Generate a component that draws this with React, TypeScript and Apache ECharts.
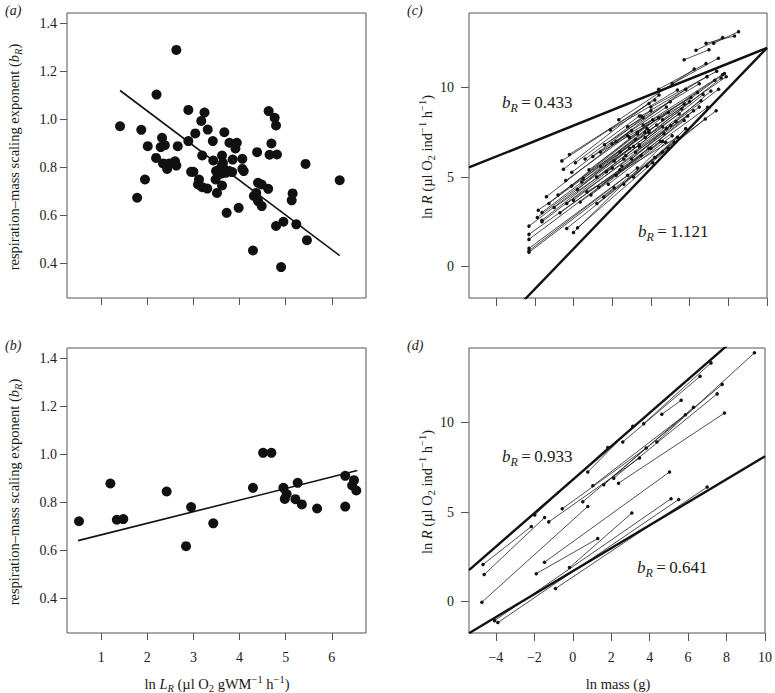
import React, { useEffect, useRef } from "react";
import * as echarts from "echarts";

// ---------- data ----------
const panelAPoints: number[][] = [
  [2.63, 1.29], [2.2, 1.104], [1.41, 0.972], [1.87, 0.957], [2.01, 0.889], [2.32, 0.924], [2.29, 0.885],
  [2.38, 0.893], [2.66, 0.889], [2.19, 0.84], [2.34, 0.817], [2.43, 0.794], [2.48, 0.817], [2.6, 0.826],
  [2.63, 0.808], [1.95, 0.75], [1.78, 0.674], [2.89, 1.04], [3.24, 1.029], [3.17, 0.994], [3.04, 0.942],
  [3.31, 0.958], [2.89, 0.91], [3.42, 0.91], [3.19, 0.85], [2.95, 0.782], [3.0, 0.782], [3.12, 0.75],
  [3.1, 0.729], [3.19, 0.718], [3.3, 0.712], [3.43, 0.829], [3.49, 0.785], [3.48, 0.75], [3.51, 0.694],
  [3.62, 0.725], [3.62, 0.85], [3.67, 0.947], [3.57, 0.792], [3.64, 0.819], [3.67, 0.792], [3.71, 0.778],
  [3.78, 0.903], [3.94, 0.903], [3.91, 0.879], [3.85, 0.833], [4.06, 0.836], [3.84, 0.781], [4.06, 0.794],
  [4.09, 0.785], [3.72, 0.611], [3.98, 0.632], [4.38, 0.864], [4.4, 0.736], [4.48, 0.729], [4.62, 0.711],
  [4.31, 0.681], [4.36, 0.694], [4.4, 0.66], [4.48, 0.639], [4.29, 0.454], [4.63, 1.035], [4.76, 1.007],
  [4.79, 0.975], [4.69, 0.9], [4.65, 0.853], [4.81, 0.854], [4.79, 0.556], [4.95, 0.574], [4.9, 0.385],
  [5.15, 0.692], [5.13, 0.663], [5.23, 0.563], [5.43, 0.815], [5.46, 0.497], [6.17, 0.747], [3.62, 0.775],
  [3.54, 0.771], [3.78, 0.785],
];
const panelALine: number[][] = [[1.41, 1.121], [6.17, 0.433]];

const panelBPoints: number[][] = [
  [0.52, 0.722], [1.2, 0.879], [1.34, 0.728], [1.48, 0.731], [2.42, 0.846], [2.84, 0.618], [2.95, 0.781],
  [3.43, 0.713], [4.29, 0.861], [4.51, 1.007], [4.69, 1.007], [4.95, 0.861], [5.02, 0.835], [4.98, 0.815],
  [5.26, 0.882], [5.21, 0.814], [5.35, 0.792], [5.68, 0.775], [6.29, 0.911], [6.29, 0.783], [6.48, 0.893],
  [6.44, 0.871], [6.53, 0.85],
];
const panelBLine: number[][] = [[0.5, 0.641], [6.55, 0.933]];

// [x1, y1, x2, y2] : ln mass, ln R at the two ends of each species' range
const panelCSegments: number[][] = [
  [-2.3, 2.26, 3.1, 6.7], [-2.3, 1.8, 2.4, 5.4], [-2.3, 1.52, 3.5, 6.2], [-2.3, 1.02, 2.8, 5.1],
  [-2.3, 0.89, 3.3, 5.5], [-2.3, 0.8, 2.1, 4.4], [-1.82, 3.15, 3.9, 7.5], [-1.87, 2.74, 2.9, 6.6],
  [-1.63, 3.02, 4.3, 7.9], [-1.63, 2.59, 3.4, 6.8], [-1.63, 2.5, 2.0, 5.5], [-1.27, 3.52, 4.1, 8.2],
  [-1.0, 3.3, 2.6, 6.0], [-0.8, 4.0, 3.2, 7.1], [-0.35, 2.13, 4.59, 6.39], [0.0, 1.91, 4.77, 6.94],
  [0.21, 2.17, 4.1, 5.8], [-0.52, 5.43, 4.42, 9.57], [-0.21, 6.26, 4.2, 9.3], [-0.09, 5.26, 3.6, 8.3],
  [-0.35, 3.52, 4.68, 7.41], [0.0, 3.7, 5.03, 7.87], [0.43, 4.72, 5.46, 8.52], [0.35, 3.61, 4.5, 7.0],
  [0.69, 4.17, 5.37, 7.22], [1.3, 4.44, 5.72, 8.15], [1.21, 3.52, 4.9, 6.6], [1.56, 3.89, 5.2, 6.95],
  [2.34, 8.19, 6.24, 11.02], [1.91, 7.63, 5.37, 9.85], [1.99, 6.85, 6.07, 9.44], [1.39, 6.39, 5.72, 9.07],
  [1.0, 6.15, 4.8, 8.9], [3.6, 7.9, 7.8, 10.78], [3.9, 7.6, 7.89, 10.59], [3.7, 7.2, 7.63, 10.52],
  [4.2, 6.1, 7.37, 8.7], [3.8, 5.6, 6.81, 8.24], [4.0, 6.6, 6.93, 8.89], [3.4, 6.7, 6.59, 9.26],
  [2.9, 7.2, 6.41, 9.72], [2.5, 5.6, 6.2, 8.7], [2.7, 6.2, 6.7, 9.6], [3.1, 5.0, 5.8, 7.7],
  [2.2, 5.1, 5.9, 8.4], [2.6, 4.6, 5.4, 7.2], [3.0, 6.0, 7.1, 9.8], [3.3, 7.5, 7.3, 10.4],
  [2.1, 5.9, 5.6, 8.8], [1.7, 5.3, 5.3, 8.1], [1.2, 5.0, 4.6, 7.8], [0.8, 5.4, 4.4, 8.3],
  [0.5, 4.9, 3.8, 7.7], [0.2, 4.3, 3.7, 7.5], [-0.1, 4.5, 3.3, 7.4], [-0.4, 4.8, 2.8, 7.3],
  [0.1, 5.8, 3.4, 8.4], [0.6, 6.0, 4.0, 8.7], [1.6, 6.8, 5.0, 9.2], [2.2, 7.0, 5.8, 9.9],
  [2.8, 7.8, 6.5, 10.2], [3.5, 8.4, 6.9, 10.6], [4.0, 8.9, 7.4, 10.9], [4.4, 9.9, 6.85, 11.33],
  [5.1, 10.2, 7.49, 11.63], [6.33, 12.07, 7.71, 12.78], [6.85, 12.46, 8.32, 12.87], [7.24, 12.46, 8.53, 13.11],
  [5.72, 11.54, 7.0, 12.1], [4.6, 8.2, 7.7, 10.7], [4.8, 7.7, 7.5, 9.9],
  [-1.4, 3.9, 3.0, 7.6], [-0.7, 3.0, 3.9, 6.6], [0.9, 4.0, 4.6, 7.0], [1.8, 4.6, 5.1, 7.3],
  [2.4, 6.4, 6.0, 9.2], [3.2, 6.4, 6.5, 8.9], [1.4, 5.6, 4.9, 8.6], [-0.6, 5.9, 3.9, 9.1],
];

const panelDSegments: number[][] = [
  [-4.67, 2.07, -2.16, 4.19], [-4.61, 1.51, -1.47, 4.69], [-4.73, -0.03, 0.78, 5.31], [-1.98, 4.84, 1.82, 8.6],
  [0.78, 7.23, 3.12, 9.78], [-1.25, 4.45, 3.47, 8.01], [-0.55, 5.18, 3.82, 8.57], [0.52, 5.57, 7.77, 12.12],
  [1.04, 6.46, 5.86, 10.43], [1.61, 6.52, 6.28, 10.84], [2.13, 6.89, 7.51, 11.59], [2.38, 6.61, 7.89, 10.52],
  [2.6, 8.91, 6.62, 12.57], [3.69, 9.93, 7.19, 13.32], [4.63, 10.45, 5.64, 11.23], [4.37, 8.91, 9.45, 13.88],
  [-1.47, 2.2, 5.03, 7.23], [-1.9, 1.56, 1.3, 3.52], [-0.17, 1.9, 3.07, 4.94], [-0.9, 0.73, 6.99, 6.39],
  [-4.07, -1.06, 5.11, 5.74], [-3.9, -1.17, 5.51, 5.7],
];

// fitted lines: intercept, slope (ln R = a + b ln mass)
const panelCFitIntercepts = [7.87, 0.99];
const panelCFitSlopes = [0.433, 1.121];
const panelDFitIntercepts = [6.8, 1.7];
const panelDFitSlopes = [0.933, 0.641];

const abXRange = [0.26, 6.74];
const abYRange = [0.256, 1.444];
const cdXRange = [-5.4, 10];
const cdYRange = [-1.75, 14.15];
const abXTicks = [1, 2, 3, 4, 5, 6];
const abYTicks = [0.4, 0.6, 0.8, 1.0, 1.2, 1.4];
const cdXTicks = [-4, -2, 0, 2, 4, 6, 8, 10];
const cdYTicks = [0, 5, 10];

// ---------- styling ----------
const FONT = "Liberation Serif";
const INK = "#1a1a1a";
const BOX = "#555";
const TS = 14.5;
const SS = 10.5;

const rich = {
  n: { fontFamily: FONT, fontSize: TS, color: INK, fill: INK },
  i: { fontFamily: FONT, fontSize: TS, fontStyle: "italic", color: INK, fill: INK },
  is: { fontFamily: FONT, fontSize: SS, fontStyle: "italic", color: INK, fill: INK, padding: [9, 0, 0, 0] },
  s: { fontFamily: FONT, fontSize: SS, color: INK, fill: INK, padding: [9, 0, 0, 0] },
  p: { fontFamily: FONT, fontSize: SS, color: INK, fill: INK, padding: [0, 0, 9, 0] },
  pl: { fontFamily: FONT, fontSize: 14, fontStyle: "italic", color: INK, fill: INK },
  bi: { fontFamily: FONT, fontSize: 17, fontStyle: "italic", color: INK, fill: INK },
  bs: { fontFamily: FONT, fontSize: 12, fontStyle: "italic", color: INK, fill: INK, padding: [11, 0, 0, 0] },
  bn: { fontFamily: FONT, fontSize: 17, color: INK, fill: INK },
};

const minus = (v: number) => (v < 0 ? "\u2212" + Math.abs(v) : String(v));

function xAxis(grid: number, range: number[], ticks: number[], labels: boolean, fmt: (v: number) => string, tick: number) {
  return {
    type: "value",
    gridIndex: grid,
    position: "bottom",
    min: range[0],
    max: range[1],
    axisLine: { show: false, onZero: false },
    splitLine: { show: false },
    axisTick: { show: true, length: tick, customValues: ticks, lineStyle: { color: BOX, width: 1 } },
    axisLabel: {
      show: labels,
      customValues: ticks,
      formatter: fmt,
      fontFamily: FONT,
      fontSize: 14,
      color: INK,
      margin: 17,
    },
  };
}

function yAxis(grid: number, range: number[], ticks: number[], fmt: (v: number) => string, margin: number, tick: number) {
  return {
    type: "value",
    gridIndex: grid,
    position: "left",
    min: range[0],
    max: range[1],
    axisLine: { show: false, onZero: false },
    splitLine: { show: false },
    axisTick: { show: true, length: tick, customValues: ticks, lineStyle: { color: BOX, width: 1 } },
    axisLabel: {
      show: true,
      customValues: ticks,
      formatter: fmt,
      fontFamily: FONT,
      fontSize: 14,
      color: INK,
      margin,
    },
  };
}

function fitLine(intercept: number, slope: number, range: number[]) {
  return [
    [range[0], intercept + slope * range[0]],
    [range[1], intercept + slope * range[1]],
  ];
}

function text(x: number, y: number, str: string, rotate = false, align = "center") {
  return {
    type: "text",
    x,
    y,
    rotation: rotate ? Math.PI / 2 : 0,
    style: { text: str, rich, align, verticalAlign: "middle", fill: INK, fontFamily: FONT, fontSize: 14 },
  };
}

export default function App() {
  const ref = useRef<HTMLDivElement>(null);
  useEffect(() => {
    if (!ref.current) return;
    const chart = echarts.init(ref.current, undefined, { renderer: "svg" });

    const grids = [
      { left: 67, top: 13, width: 299, height: 285 },
      { left: 67, top: 348, width: 299, height: 285 },
      { left: 469, top: 13, width: 298, height: 285 },
      { left: 469, top: 348, width: 298, height: 285 },
    ].map((g) => ({ ...g, show: true, borderColor: BOX, borderWidth: 1, backgroundColor: "transparent", containLabel: false }));

    const segLines = (segs: number[][], idx: number) => ({
      type: "lines",
      coordinateSystem: "cartesian2d",
      xAxisIndex: idx,
      yAxisIndex: idx,
      polyline: false,
      silent: true,
      z: 2,
      lineStyle: { color: "#222", width: 0.8, opacity: 1, curveness: 0 },
      data: segs.map((s) => ({ coords: [[s[0], s[1]], [s[2], s[3]]] })),
    });
    const segDots = (segs: number[][], idx: number) => ({
      type: "scatter",
      xAxisIndex: idx,
      yAxisIndex: idx,
      symbol: "circle",
      symbolSize: 3.5,
      silent: true,
      z: 3,
      itemStyle: { color: "#111", opacity: 1 },
      data: segs.flatMap((s) => [[s[0], s[1]], [s[2], s[3]]]),
    });
    const thick = (data: number[][], idx: number, width: number) => ({
      type: "line",
      xAxisIndex: idx,
      yAxisIndex: idx,
      data,
      showSymbol: false,
      symbol: "none",
      clip: true,
      silent: true,
      z: 4,
      lineStyle: { color: "#111", width },
    });
    const dots = (data: number[][], idx: number) => ({
      type: "scatter",
      xAxisIndex: idx,
      yAxisIndex: idx,
      data,
      symbolSize: 10,
      silent: true,
      itemStyle: { color: "#111", opacity: 1 },
    });

    const yTitleAB = "{n|respiration\u2013mass scaling exponent (}{i|b}{is|R}{n|)}";
    const yTitleCD = "{n|ln }{i|R}{n| (\u00b5l O}{s|2}{n| ind}{p|\u22121}{n| h}{p|\u22121}{n|)}";

    const option: any = {
      animation: false,
      grid: grids,
      xAxis: [
        xAxis(0, abXRange, abXTicks, false, (v) => String(v), 7),
        xAxis(1, abXRange, abXTicks, true, (v) => String(v), 7),
        xAxis(2, cdXRange, cdXTicks, false, minus, 8),
        xAxis(3, cdXRange, cdXTicks, true, minus, 8),
      ],
      yAxis: [
        yAxis(0, abYRange, abYTicks, (v) => v.toFixed(1), 10, 7),
        yAxis(1, abYRange, abYTicks, (v) => v.toFixed(1), 10, 7),
        yAxis(2, cdYRange, cdYTicks, minus, 15, 8),
        yAxis(3, cdYRange, cdYTicks, minus, 15, 8),
      ],
      series: [
        dots(panelAPoints, 0),
        thick(panelALine, 0, 1.6),
        dots(panelBPoints, 1),
        thick(panelBLine, 1, 1.6),
        segLines(panelCSegments, 2),
        segDots(panelCSegments, 2),
        thick(fitLine(panelCFitIntercepts[0], panelCFitSlopes[0], cdXRange), 2, 2.4),
        thick(fitLine(panelCFitIntercepts[1], panelCFitSlopes[1], cdXRange), 2, 2.4),
        segLines(panelDSegments, 3),
        segDots(panelDSegments, 3),
        thick(fitLine(panelDFitIntercepts[0], panelDFitSlopes[0], cdXRange), 3, 2.4),
        thick(fitLine(panelDFitIntercepts[1], panelDFitSlopes[1], cdXRange), 3, 2.4),
      ],
      graphic: [
        text(5, 10, "{pl|(a)}", false, "left"),
        text(5, 345, "{pl|(b)}", false, "left"),
        text(407, 10, "{pl|(c)}", false, "left"),
        text(407, 345, "{pl|(d)}", false, "left"),
        text(14, 157, yTitleAB, true),
        text(14, 492, yTitleAB, true),
        text(427, 157, yTitleCD, true),
        text(427, 492, yTitleCD, true),
        text(217, 684, "{n|ln }{i|L}{is|R}{n| (\u00b5l O}{s|2}{n| gWM}{p|\u22121}{n| h}{p|\u22121}{n|)}"),
        text(618, 684, "{n|ln mass (g)}"),
        text(502, 102, "{bi|b}{bs|R}{bn|\u2009=\u20090.433}", false, "left"),
        text(638, 231, "{bi|b}{bs|R}{bn|\u2009=\u20091.121}", false, "left"),
        text(502, 456, "{bi|b}{bs|R}{bn|\u2009=\u20090.933}", false, "left"),
        text(637, 567, "{bi|b}{bs|R}{bn|\u2009=\u20090.641}", false, "left"),
      ],
    };
    chart.setOption(option);
    return () => chart.dispose();
  }, []);
  return (
    <div
      ref={ref}
      style={{ position: "absolute", left: 0, top: 0, width: 775, height: 693, background: "#fff" }}
    />
  );
}
